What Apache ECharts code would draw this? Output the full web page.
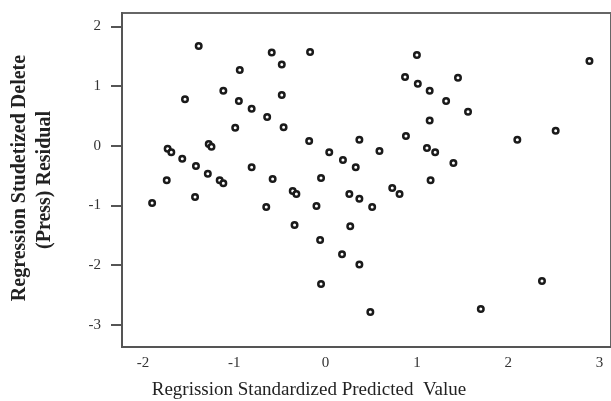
<!DOCTYPE html>
<html>
<head>
    <meta charset="UTF-8">
    <title>Regression residual plot</title>
    <script type="text/javascript" src="https://cdn.jsdelivr.net/npm/echarts/dist/echarts.min.js"></script>
    <style>
        *{margin:0;padding:0}
        html,body{width:100%;height:100%;background:#fff}
        #main{width:611px;height:401px}
    </style>
</head>
<body>
<div id="main"></div>

<script type="text/javascript">
    // standardized predicted value (x)
    var predicted = [
        -1.39, -0.94, -1.54, -1.12, -0.95, -0.99, -1.28, -1.25, -1.73, -1.69,
        -1.57, -1.42, -1.29, -1.16, -1.12, -1.74, -1.90, -1.43, -0.59, -0.17,
        -0.48, -0.48, -0.81, -0.64, -0.46, -0.18, 0.37, 0.04, 0.19, 0.33,
        -0.81, -0.58, -0.05, -0.36, -0.32, -0.65, -0.10, 0.26, 0.37, -0.34,
        0.27, -0.06, 0.18, 0.37, -0.05, 0.49, 0.51, 1.00, 0.87, 1.01,
        1.14, 1.45, 1.32, 1.56, 1.14, 0.88, 0.59, 1.11, 1.20, 1.40,
        1.15, 0.73, 0.81, 2.89, 2.10, 2.52, 2.37, 1.70
    ];
    // studentized deleted (press) residual (y)
    var residual = [
        1.67, 1.27, 0.78, 0.92, 0.75, 0.30, 0.03, -0.02, -0.05, -0.11,
        -0.22, -0.34, -0.47, -0.58, -0.63, -0.58, -0.96, -0.86, 1.56, 1.57,
        1.36, 0.85, 0.62, 0.48, 0.31, 0.08, 0.10, -0.11, -0.24, -0.36,
        -0.36, -0.56, -0.54, -0.76, -0.81, -1.03, -1.01, -0.81, -0.89, -1.33,
        -1.35, -1.58, -1.82, -1.99, -2.32, -2.79, -1.03, 1.52, 1.15, 1.04,
        0.92, 1.14, 0.75, 0.57, 0.42, 0.16, -0.09, -0.04, -0.11, -0.29,
        -0.58, -0.71, -0.81, 1.42, 0.10, 0.25, -2.27, -2.74
    ];
    var xTicks = [-2, -1, 0, 1, 2, 3];
    var yTicks = [-3, -2, -1, 0, 1, 2];

    var points = [];
    for (var i = 0; i < predicted.length; i++) {
        points.push([predicted[i], residual[i]]);
    }

    var serif = '"Liberation Serif", "DejaVu Serif", serif';

    var option = {
        backgroundColor: '#fff',
        animation: false,
        grid: {
            left: 122, top: 13, right: -2, bottom: 54,
            show: true,
            borderColor: '#666',
            borderWidth: 2
        },
        xAxis: {
            type: 'value',
            min: -2.23,
            max: 3.126,
            splitLine: {show: false},
            axisLine: {onZero: false, lineStyle: {color: '#555', width: 2}},
            axisTick: {show: false},
            axisLabel: {
                customValues: xTicks,
                margin: 9,
                color: '#333',
                fontFamily: serif,
                fontSize: 15
            }
        },
        yAxis: {
            type: 'value',
            min: -3.375,
            max: 2.224,
            splitLine: {show: false},
            axisLine: {onZero: false, lineStyle: {color: '#555', width: 2}},
            axisTick: {
                customValues: yTicks,
                length: 11,
                lineStyle: {color: '#555', width: 2}
            },
            axisLabel: {
                customValues: yTicks,
                margin: 21,
                color: '#333',
                fontFamily: serif,
                fontSize: 15
            }
        },
        graphic: [
            {
                type: 'text', x: 309, y: 390,
                style: {
                    text: 'Regrission Standardized Predicted  Value',
                    fill: '#222', font: '19px ' + serif,
                    textAlign: 'center', textVerticalAlign: 'middle'
                }
            },
            {
                type: 'text', x: 20, y: 178, rotation: Math.PI / 2,
                style: {
                    text: 'Regression Studetized Delete',
                    fill: '#222', font: 'bold 20px ' + serif,
                    textAlign: 'center', textVerticalAlign: 'middle'
                }
            },
            {
                type: 'text', x: 45, y: 180, rotation: Math.PI / 2,
                style: {
                    text: '(Press) Residual',
                    fill: '#222', font: 'bold 20px ' + serif,
                    textAlign: 'center', textVerticalAlign: 'middle'
                }
            }
        ],
        series: [
            {
                type: 'scatter',
                data: points,
                symbol: 'circle',
                symbolSize: 5.5,
                itemStyle: {
                    color: '#fff',
                    borderColor: '#1a1a1a',
                    borderWidth: 2.5,
                    opacity: 1
                }
            }
        ]
    };

    var myChart = echarts.init(document.getElementById('main'));
    myChart.setOption(option);
</script>
</body>
</html>
